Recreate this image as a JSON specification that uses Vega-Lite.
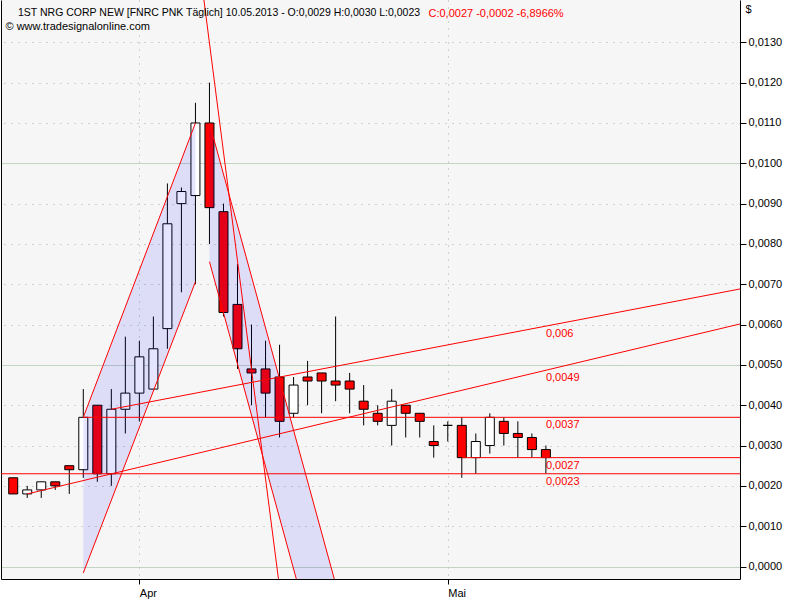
{
  "$schema": "https://vega.github.io/schema/vega-lite/v6.json",
  "width": 739,
  "height": 579,
  "autosize": {"type": "none"},
  "padding": {"left": 1, "top": 0, "right": 60, "bottom": 21},
  "background": "#ffffff",
  "config": {"view": {"stroke": null, "fill": "#f6f6f6"}, "font": "Liberation Sans"},
  "title": {
    "text": "1ST NRG CORP NEW [FNRC PNK  Täglich] 10.05.2013 - O:0,0029 H:0,0030 L:0,0023",
    "anchor": "start",
    "frame": "group",
    "offset": -18,
    "dx": 17,
    "font": "Liberation Sans",
    "fontSize": 10.5,
    "fontWeight": "normal",
    "color": "#000000"
  },
  "datasets": {
    "candles": [
      {"i": 0, "d": "2013-03-18", "o": 0.0022, "h": 0.0022, "l": 0.0018, "c": 0.0018},
      {"i": 1, "d": "2013-03-19", "o": 0.0018, "h": 0.0020, "l": 0.0017, "c": 0.0019},
      {"i": 2, "d": "2013-03-20", "o": 0.0019, "h": 0.0021, "l": 0.0017, "c": 0.0021},
      {"i": 3, "d": "2013-03-21", "o": 0.0021, "h": 0.0021, "l": 0.0019, "c": 0.0020},
      {"i": 4, "d": "2013-03-22", "o": 0.0025, "h": 0.0025, "l": 0.0018, "c": 0.0024},
      {"i": 5, "d": "2013-03-25", "o": 0.0024, "h": 0.0044, "l": 0.0022, "c": 0.0037},
      {"i": 6, "d": "2013-03-26", "o": 0.0040, "h": 0.0040, "l": 0.0021, "c": 0.0023},
      {"i": 7, "d": "2013-03-27", "o": 0.0023, "h": 0.0044, "l": 0.0020, "c": 0.0039},
      {"i": 8, "d": "2013-03-28", "o": 0.0039, "h": 0.0057, "l": 0.0033, "c": 0.0043},
      {"i": 9, "d": "2013-04-01", "o": 0.0043, "h": 0.0056, "l": 0.0036, "c": 0.0052},
      {"i": 10, "d": "2013-04-02", "o": 0.0044, "h": 0.0062, "l": 0.0044, "c": 0.0054},
      {"i": 11, "d": "2013-04-03", "o": 0.0059, "h": 0.0095, "l": 0.0054, "c": 0.0085},
      {"i": 12, "d": "2013-04-04", "o": 0.0090, "h": 0.0094, "l": 0.0068, "c": 0.0093},
      {"i": 13, "d": "2013-04-05", "o": 0.0092, "h": 0.0115, "l": 0.0070, "c": 0.0110},
      {"i": 14, "d": "2013-04-08", "o": 0.0110, "h": 0.0120, "l": 0.0080, "c": 0.0089},
      {"i": 15, "d": "2013-04-09", "o": 0.0088, "h": 0.0090, "l": 0.0062, "c": 0.0063},
      {"i": 16, "d": "2013-04-10", "o": 0.0065, "h": 0.0075, "l": 0.0049, "c": 0.0054},
      {"i": 17, "d": "2013-04-11", "o": 0.0049, "h": 0.0060, "l": 0.0040, "c": 0.0048},
      {"i": 18, "d": "2013-04-12", "o": 0.0049, "h": 0.0056, "l": 0.0037, "c": 0.0043},
      {"i": 19, "d": "2013-04-15", "o": 0.0047, "h": 0.0055, "l": 0.0032, "c": 0.0036},
      {"i": 20, "d": "2013-04-16", "o": 0.0038, "h": 0.0047, "l": 0.0037, "c": 0.0045},
      {"i": 21, "d": "2013-04-17", "o": 0.0047, "h": 0.0051, "l": 0.0040, "c": 0.0046},
      {"i": 22, "d": "2013-04-18", "o": 0.0048, "h": 0.0048, "l": 0.0038, "c": 0.0046},
      {"i": 23, "d": "2013-04-19", "o": 0.0046, "h": 0.0062, "l": 0.0041, "c": 0.0045},
      {"i": 24, "d": "2013-04-22", "o": 0.0046, "h": 0.0048, "l": 0.0038, "c": 0.0044},
      {"i": 25, "d": "2013-04-23", "o": 0.0041, "h": 0.0045, "l": 0.0035, "c": 0.0039},
      {"i": 26, "d": "2013-04-24", "o": 0.0038, "h": 0.0040, "l": 0.0035, "c": 0.0036},
      {"i": 27, "d": "2013-04-25", "o": 0.0035, "h": 0.0044, "l": 0.0030, "c": 0.0041},
      {"i": 28, "d": "2013-04-26", "o": 0.0040, "h": 0.0040, "l": 0.0032, "c": 0.0038},
      {"i": 29, "d": "2013-04-29", "o": 0.0038, "h": 0.0038, "l": 0.0032, "c": 0.0036},
      {"i": 30, "d": "2013-04-30", "o": 0.0031, "h": 0.0035, "l": 0.0027, "c": 0.0030},
      {"i": 31, "d": "2013-05-01", "o": 0.0035, "h": 0.0036, "l": 0.0031, "c": 0.0035},
      {"i": 32, "d": "2013-05-02", "o": 0.0035, "h": 0.0037, "l": 0.0022, "c": 0.0027},
      {"i": 33, "d": "2013-05-03", "o": 0.0027, "h": 0.0033, "l": 0.0023, "c": 0.0031},
      {"i": 34, "d": "2013-05-06", "o": 0.0030, "h": 0.0038, "l": 0.0028, "c": 0.0037},
      {"i": 35, "d": "2013-05-07", "o": 0.0036, "h": 0.0037, "l": 0.0030, "c": 0.0033},
      {"i": 36, "d": "2013-05-08", "o": 0.0033, "h": 0.0036, "l": 0.0027, "c": 0.0032},
      {"i": 37, "d": "2013-05-09", "o": 0.0032, "h": 0.0033, "l": 0.0027, "c": 0.0029},
      {"i": 38, "d": "2013-05-10", "o": 0.0029, "h": 0.0030, "l": 0.0023, "c": 0.0027}
    ],
    "bands": [
      {"band": "up", "i": 5, "lo": -0.00016, "hi": 0.0037},
      {"band": "up", "i": 13, "lo": 0.00706, "hi": 0.0110},
      {"band": "down", "i": 14, "lo": 0.00756, "hi": 0.0110},
      {"band": "down", "i": 24, "lo": -0.00514, "hi": -0.0017}
    ],
    "lines": [
      {"line": "up1", "i": 5, "v": 0.0037},
      {"line": "up1", "i": 13, "v": 0.0110},
      {"line": "up2", "i": 5, "v": -0.00016},
      {"line": "up2", "i": 13, "v": 0.00706},
      {"line": "dn1", "i": 14, "v": 0.0110},
      {"line": "dn1", "i": 24, "v": -0.0017},
      {"line": "dn2", "i": 14, "v": 0.00756},
      {"line": "dn2", "i": 24, "v": -0.00514},
      {"line": "steep", "i": 13, "v": 0.015684},
      {"line": "steep", "i": 20, "v": -0.003223},
      {"line": "t1", "i": 1, "v": 0.0018},
      {"line": "t1", "i": 52, "v": 0.006028},
      {"line": "t2", "i": 7, "v": 0.0039},
      {"line": "t2", "i": 52, "v": 0.006893},
      {"line": "h37", "i": 5, "v": 0.0037},
      {"line": "h37", "i": 52, "v": 0.0037},
      {"line": "h27", "i": 32, "v": 0.0027},
      {"line": "h27", "i": 52, "v": 0.0027},
      {"line": "h23", "i": -1, "v": 0.0023},
      {"line": "h23", "i": 52, "v": 0.0023}
    ],
    "labels": [
      {"i": 38, "v": 0.005962, "t": "0,006"},
      {"i": 38, "v": 0.004872, "t": "0,0049"},
      {"i": 38, "v": 0.0037, "t": "0,0037"},
      {"i": 38, "v": 0.0027, "t": "0,0027"},
      {"i": 38, "v": 0.0023, "t": "0,0023"}
    ]
  },
  "layer": [
    {
      "data": {"name": "candles"},
      "mark": {"type": "rule", "color": "#000000", "strokeWidth": 1},
      "encoding": {
        "x": {
          "field": "i", "type": "quantitative",
          "scale": {"domain": [-0.514, 51.49], "nice": false, "zero": false},
          "axis": {
            "orient": "bottom",
            "values": [9, 31],
            "labelExpr": "datum.value == 9 ? 'Apr' : 'Mai'",
            "labelAlign": "left",
            "labelPadding": 3,
            "labelFont": "Liberation Sans",
            "labelFontSize": 11,
            "labelColor": "#000000",
            "tickSize": 5,
            "tickColor": "#000000",
            "domainColor": "#000000",
            "grid": true,
            "gridColor": "#a0b4a0",
            "gridDash": [1, 6],
            "title": "C:0,0027 -0,0002 -6,8966%",
            "titleColor": "#ff0000",
            "titleFont": "Liberation Sans",
            "titleFontSize": 11,
            "titleFontWeight": "normal",
            "titleAlign": "left",
            "titleBaseline": "alphabetic",
            "titleX": 427,
            "titleY": -563
          }
        },
        "y": {
          "field": "l", "type": "quantitative",
          "scale": {"domain": [-0.00031, 0.01405], "nice": false, "zero": false},
          "axis": {
            "orient": "right",
            "values": [0, 0.001, 0.002, 0.003, 0.004, 0.005, 0.006, 0.007, 0.008, 0.009, 0.01, 0.011, 0.012, 0.013],
            "labelExpr": "replace(format(datum.value, '.4f'), '.', ',')",
            "labelFont": "Liberation Sans",
            "labelFontSize": 11,
            "labelColor": "#000000",
            "labelPadding": 2,
            "tickSize": 6,
            "tickColor": "#000000",
            "domainColor": "#000000",
            "grid": true,
            "gridColor": {"condition": {"test": "round(datum.value*10000) % 50 == 0", "value": "#b0c8b0"}, "value": "#a8b0a8"},
            "gridDash": {"condition": {"test": "round(datum.value*10000) % 50 == 0", "value": [1, 0]}, "value": [1, 6]},
            "title": "$",
            "titleAngle": 0,
            "titleAlign": "left",
            "titleBaseline": "top",
            "titleX": 5,
            "titleY": 3,
            "titleFont": "Liberation Sans",
            "titleFontSize": 11,
            "titleFontWeight": "normal",
            "titleColor": "#000000"
          }
        },
        "y2": {"field": "h"}
      }
    },
    {
      "data": {"name": "candles"},
      "mark": {"type": "bar", "size": 9, "stroke": "#000000", "strokeWidth": 1},
      "encoding": {
        "x": {"field": "i", "type": "quantitative"},
        "y": {
          "field": "o", "type": "quantitative",
          "axis": {
            "orient": "left",
            "labels": false,
            "ticks": false,
            "grid": false,
            "domainColor": "#000000",
            "title": "© www.tradesignalonline.com",
            "titleAngle": 0,
            "titleAlign": "left",
            "titleBaseline": "alphabetic",
            "titleX": 4,
            "titleY": 29,
            "titleFont": "Liberation Sans",
            "titleFontSize": 11,
            "titleFontWeight": "normal",
            "titleColor": "#000000"
          }
        },
        "y2": {"field": "c"},
        "fill": {"condition": {"test": "datum.c < datum.o", "value": "#ff0000"}, "value": "#ffffff"}
      }
    },
    {
      "data": {"name": "bands"},
      "mark": {"type": "area", "fill": "#0000ff", "fillOpacity": 0.1, "clip": true},
      "encoding": {
        "x": {"field": "i", "type": "quantitative"},
        "y": {"field": "lo", "type": "quantitative", "axis": null},
        "y2": {"field": "hi"},
        "detail": {"field": "band"}
      }
    },
    {
      "data": {"name": "lines"},
      "mark": {"type": "line", "color": "#ff0000", "strokeWidth": 1, "clip": true},
      "encoding": {
        "x": {"field": "i", "type": "quantitative"},
        "y": {"field": "v", "type": "quantitative", "axis": null},
        "detail": {"field": "line"}
      }
    },
    {
      "data": {"name": "labels"},
      "mark": {"type": "text", "align": "left", "baseline": "top", "dy": 2, "color": "#ff0000", "font": "Liberation Sans", "fontSize": 11},
      "encoding": {
        "x": {"field": "i", "type": "quantitative"},
        "y": {"field": "v", "type": "quantitative", "axis": null},
        "text": {"field": "t"}
      }
    }
  ],
  "resolve": {"axis": {"y": "independent"}}
}
